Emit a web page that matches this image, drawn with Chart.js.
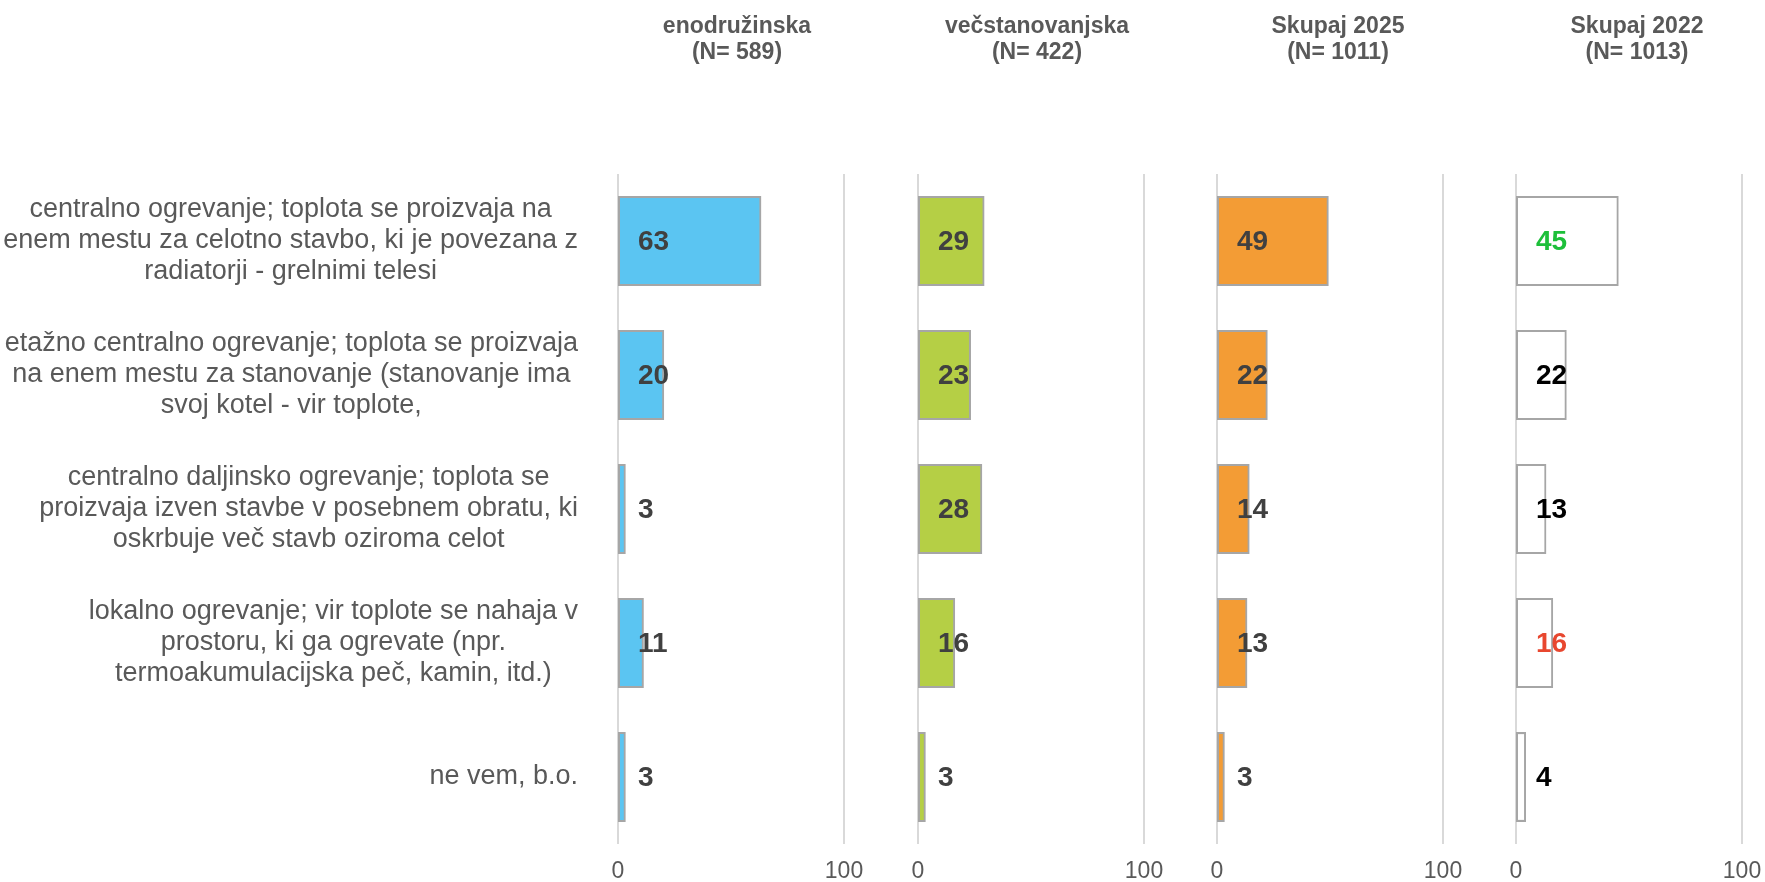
<!DOCTYPE html>
<html>
<head>
<meta charset="utf-8">
<script src="https://cdn.jsdelivr.net/npm/chart.js@4.4.1/dist/chart.umd.min.js"></script>
<style>
html,body{margin:0;padding:0;background:#ffffff;overflow:hidden;width:1765px;height:882px;position:relative}
canvas{position:absolute;top:0}
</style>
</head>
<body>
<canvas id="c0"></canvas>
<canvas id="c1"></canvas>
<canvas id="c2"></canvas>
<canvas id="c3"></canvas>
<script>
// ---------- data ----------
const categories = [
  ["centralno ogrevanje; toplota se proizvaja na", "enem mestu za celotno stavbo, ki je povezana z", "radiatorji - grelnimi telesi"],
  ["etažno centralno ogrevanje; toplota se proizvaja", "na enem mestu za stanovanje (stanovanje ima", "svoj kotel - vir toplote,"],
  ["centralno daljinsko ogrevanje; toplota se", "proizvaja izven stavbe v posebnem obratu, ki", "oskrbuje več stavb oziroma celot"],
  ["lokalno ogrevanje; vir toplote se nahaja v", "prostoru, ki ga ogrevate (npr.", "termoakumulacijska peč, kamin, itd.)"],
  ["ne vem, b.o."]
];
const groupTitles = [
  ["enodružinska", "(N= 589)"],
  ["večstanovanjska", "(N= 422)"],
  ["Skupaj 2025", "(N= 1011)"],
  ["Skupaj 2022", "(N= 1013)"]
];
const enodruzinska    = [63, 20, 3, 11, 3];
const vecstanovanjska = [29, 23, 28, 16, 3];
const skupaj2025      = [49, 22, 14, 13, 3];
const skupaj2022      = [45, 22, 13, 16, 4];
const xTicks = [0, 100];

// ---------- styles ----------
const FONT = '"Liberation Sans", Arial, Helvetica, sans-serif';
const DARK = '#404040';
const GREY = '#595959';

const headerPlugin = {
  id: 'headers',
  afterDraw(chart, args, opts) {
    const ctx = chart.ctx;
    const ca = chart.chartArea;
    const cx = (ca.left + ca.right) / 2 + opts.dx;
    ctx.save();
    ctx.font = 'bold 23px ' + FONT;
    ctx.fillStyle = GREY;
    ctx.textAlign = 'center';
    ctx.textBaseline = 'middle';
    opts.lines.forEach((t, j) => ctx.fillText(t, cx, opts.y0 + j * opts.lh));
    ctx.restore();
  }
};

const valuePlugin = {
  id: 'valueLabels',
  afterDatasetsDraw(chart, args, opts) {
    const ctx = chart.ctx;
    const meta = chart.getDatasetMeta(0);
    const xs = chart.scales.x;
    const x0 = xs.getPixelForValue(0) + opts.offset;
    const vals = chart.data.datasets[0].data;
    ctx.save();
    ctx.font = 'bold 28px ' + FONT;
    ctx.textAlign = 'left';
    ctx.textBaseline = 'middle';
    meta.data.forEach((bar, i) => {
      ctx.fillStyle = opts.colors[i];
      ctx.fillText(String(vals[i]), x0, bar.y + 1);
    });
    ctx.restore();
  }
};

const catPlugin = {
  id: 'catLabels',
  afterDraw(chart, args, opts) {
    if (!opts.show) return;
    const ctx = chart.ctx;
    const ys = chart.scales.y;
    ctx.save();
    ctx.font = '27px ' + FONT;
    ctx.fillStyle = GREY;
    ctx.textAlign = 'center';
    ctx.textBaseline = 'middle';
    chart.data.labels.forEach((lines, i) => {
      const yc = ys.getPixelForTick(i);
      const w = Math.max(...lines.map(l => ctx.measureText(l).width));
      const cx = opts.right - w / 2;
      lines.forEach((l, j) => ctx.fillText(l, cx, yc + (j - (lines.length - 1) / 2) * opts.lh));
    });
    ctx.restore();
  }
};

function makeChart(id, left, padL, padR, values, title, fill, labelColors, showCats, dx) {
  const cv = document.getElementById(id);
  const width = padL + 226 + padR;
  cv.width = width; cv.height = 882;
  cv.style.left = left + 'px';
  cv.style.width = width + 'px';
  cv.style.height = '882px';
  return new Chart(cv, {
    type: 'bar',
    data: {
      labels: categories,
      datasets: [{
        data: values,
        backgroundColor: fill,
        borderColor: '#a6a6a6',
        borderWidth: 2,
        borderSkipped: false,
        inflateAmount: 1,
        barPercentage: 0.655,
        categoryPercentage: 1
      }]
    },
    options: {
      indexAxis: 'y',
      responsive: false,
      animation: false,
      devicePixelRatio: 1,
      layout: { padding: { left: padL, right: padR, top: 174, bottom: 0 } },
      plugins: {
        legend: { display: false },
        tooltip: { enabled: false },
        title: { display: false },
        headers: { lines: title, dx: dx, y0: 27, lh: 26 },
        valueLabels: { colors: labelColors, offset: 20 },
        catLabels: { show: showCats, right: 578, lh: 31 }
      },
      scales: {
        x: {
          type: 'linear',
          min: 0, max: 100,
          afterBuildTicks(s) { s.ticks = xTicks.map(v => ({ value: v })); },
          afterFit(s) { s.height = 38; },
          grid: { color: '#d9d9d9', lineWidth: 2, drawTicks: false },
          border: { display: false },
          ticks: { color: GREY, font: { family: FONT, size: 23, lineHeight: 1 }, padding: 16, maxRotation: 0, autoSkip: false }
        },
        y: { display: false }
      }
    },
    plugins: [headerPlugin, valuePlugin, catPlugin]
  });
}

const dark5 = [DARK, DARK, DARK, DARK, DARK];
makeChart('c0', 0, 618, 48, enodruzinska, groupTitles[0], '#5bc5f2', dark5, true, 6);
makeChart('c1', 878, 40, 48, vecstanovanjska, groupTitles[1], '#b5cf45', dark5, false, 6);
makeChart('c2', 1177, 40, 48, skupaj2025, groupTitles[2], '#f39c35', dark5, false, 8);
makeChart('c3', 1476, 40, 48, skupaj2022, groupTitles[3], '#ffffff', ['#1dbf3a', '#000000', '#000000', '#e8472f', '#000000'], false, 8);
</script>
</body>
</html>
